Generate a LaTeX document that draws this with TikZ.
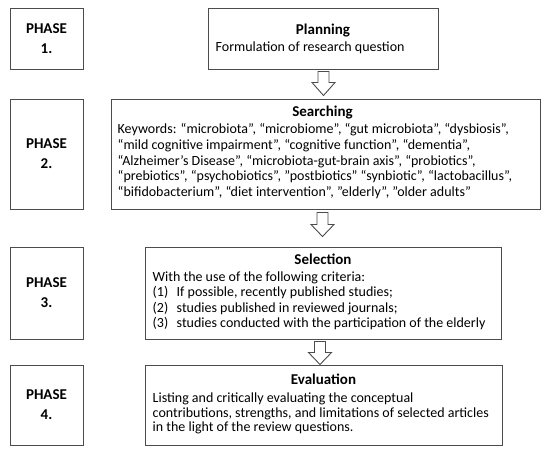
\documentclass[tikz,border=0pt]{standalone}
\usepackage{fontspec}
\setmainfont{Carlito}
\usetikzlibrary{positioning}
\usetikzlibrary{calc}
\tikzstyle{phase} = [draw=black!70, line width=1pt, minimum width=73pt, align=center, font=\bfseries\fontsize{15}{20}\selectfont]
\tikzstyle{block} = [draw=black!70, line width=1pt]
\tikzstyle{title} = [anchor=base, inner sep=0pt, font=\bfseries\fontsize{15}{18}\selectfont]
\tikzstyle{body} = [anchor=base west, inner sep=0pt, align=left]
\tikzstyle{hollow} = [draw=black!70, line width=0.9pt, fill=white]
\newcommand{\itm}[1]{\makebox[24pt][l]{(#1)}}

\begin{document}
\begin{tikzpicture}[x=1pt,y=-1pt]
    \useasboundingbox (0,0) rectangle (550,456);
    % phase labels
    \node [phase, minimum height=61pt] (ph1) at (46.5,38.5) {PHASE\\1.};
    \node [phase, minimum height=110pt] (ph2) at (46.5,154) {PHASE\\2.};
    \node [phase, minimum height=92pt] (ph3) at (46.5,293) {PHASE\\3.};
    \node [phase, minimum height=80pt] (ph4) at (46.5,405) {PHASE\\4.};
    % content boxes
    \node [block, minimum width=230pt, minimum height=61pt] (plan) at (323,38.5) {};
    \node [block, minimum width=429pt, minimum height=110pt] (search) at (325.5,154) {};
    \node [block, minimum width=356pt, minimum height=92pt] (select) at (323,293) {};
    \node [block, minimum width=357pt, minimum height=80pt] (eval) at (323.5,405) {};
    % titles
    \node [title] (plantitle) at ($(plan.north)+(0,27)$) {Planning};
    \node [title] (searchtitle) at ($(search.north)+(-3,18)$) {Searching};
    \node [title] (selecttitle) at ($(select.north)+(0,18)$) {Selection};
    \node [title] (evaltitle) at ($(eval.north)+(0,20)$) {Evaluation};
    % body texts (base = last line)
    \node [body, font=\fontsize{14}{15}\selectfont] (plantext) at ($(plan.north west)+(8,44)$)
        {Formulation of research question};
    \node [body, font=\fontsize{14}{15.75}\selectfont] (searchtext) at ($(search.north west)+(7,98)$)
        {Keywords: “microbiota”, “microbiome”, “gut microbiota”, “dysbiosis”,\\
         “mild cognitive impairment”, “cognitive function”, “dementia”,\\
         “Alzheimer’s Disease”, “microbiota-gut-brain axis”, “probiotics”,\\
         “prebiotics”, “psychobiotics”, "postbiotics" “synbiotic”, “lactobacillus”,\\
         “bifidobacterium”, “diet intervention”, "elderly", "older adults"};
    \node [body, font=\fontsize{14}{15.3}\selectfont] (selecttext) at ($(select.north west)+(8,81)$)
        {With the use of the following criteria:\\
         \itm{1}If possible, recently published studies;\\
         \itm{2}studies published in reviewed journals;\\
         \itm{3}studies conducted with the participation of the elderly};
    \node [body, font=\fontsize{14}{14.5}\selectfont] (evaltext) at ($(eval.north west)+(8,67)$)
        {Listing and critically evaluating the conceptual\\
         contributions, strengths, and limitations of selected articles\\
         in the light of the review questions.};
    % block arrows
    \coordinate (a1) at ($(plan.south)+(0.5,2)$);
    \coordinate (a2) at ($(search.south)+(-3,3)$);
    \coordinate (a3) at ($(select.south)+(-3,2)$);
    \draw [hollow] (a1) ++(-5.5,0) -- ++(11,0) -- ++(0,11) -- ++(6,0) -- ++(-11.5,13) -- ++(-11.5,-13) -- ++(6,0) -- cycle;
    \draw [hollow] (a2) ++(-5.5,0) -- ++(11,0) -- ++(0,12) -- ++(6,0) -- ++(-11.5,12) -- ++(-11.5,-12) -- ++(6,0) -- cycle;
    \draw [hollow] (a3) ++(-5.5,0) -- ++(11,0) -- ++(0,11) -- ++(6,0) -- ++(-11.5,12) -- ++(-11.5,-12) -- ++(6,0) -- cycle;
\end{tikzpicture}
\end{document}
